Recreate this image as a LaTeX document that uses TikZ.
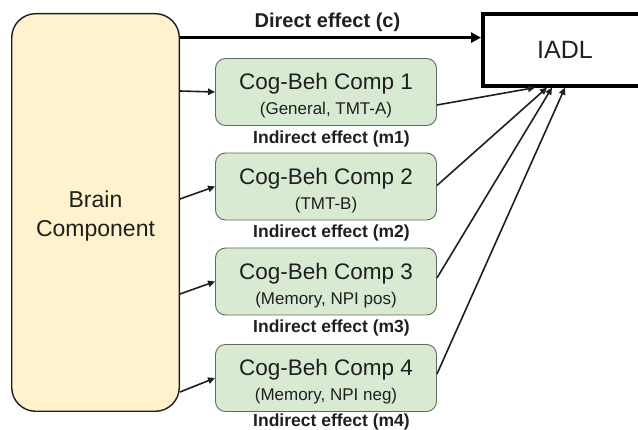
\documentclass[tikz,border=0pt]{standalone}
\usepackage{fontspec}
\setmainfont{Liberation Sans}
\usetikzlibrary{arrows.meta}
\definecolor{brainfill}{HTML}{FFF2CC}
\definecolor{cogfill}{HTML}{D9EAD3}
\definecolor{cogline}{HTML}{5F6B5C}
\definecolor{ink}{HTML}{1F1F1F}

\begin{document}
\begin{tikzpicture}[x=1pt,y=1pt,
  brainbox/.style={draw=ink, line width=1.4pt, fill=brainfill, rounded corners=24pt,
    minimum width=167.6pt, minimum height=397.6pt, align=center,
    font=\fontsize{23}{28.5}\selectfont, text=ink},
  cogbox/.style={draw=cogline, line width=0.9pt, fill=cogfill, rounded corners=10pt,
    minimum width=221pt, minimum height=67pt, align=center, inner sep=0pt,
    font=\fontsize{22.5}{25}\selectfont, text=ink},
  outbox/.style={draw=black, line width=4pt, minimum width=164pt, minimum height=72pt,
    font=\fontsize{25}{30}\selectfont, text=ink},
  efflabel/.style={font=\bfseries\fontsize{17.5}{20}\selectfont, text=ink, anchor=base},
  thinarrow/.style={draw=ink, line width=1.6pt, -{Triangle[length=7pt,width=6.5pt]}},
  thickarrow/.style={draw=black, line width=3.6pt, -{Triangle[length=10pt,width=10pt]}}
]
\useasboundingbox (0,0) rectangle (638,-430);
\clip (0,0) rectangle (638,-430);

% source and outcome
\node[brainbox] (brain) at (95.5,-212.5) {\rule{0pt}{24pt}Brain\\Component};
\node[outbox] (iadl) at (565,-49.6) {IADL};

% mediators
\node[cogbox] (c1) at (326,-92)    {\rule{0pt}{24pt}Cog-Beh Comp 1\\{\fontsize{17}{25}\selectfont (General, TMT-A)}};
\node[cogbox] (c2) at (326,-186.5) {\rule{0pt}{24pt}Cog-Beh Comp 2\\{\fontsize{17}{25}\selectfont (TMT-B)}};
\node[cogbox] (c3) at (326,-281.5) {\rule{0pt}{24pt}Cog-Beh Comp 3\\{\fontsize{17}{25}\selectfont (Memory, NPI pos)}};
\node[cogbox] (c4) at (326,-378)   {\rule{0pt}{24pt}Cog-Beh Comp 4\\{\fontsize{17}{25}\selectfont (Memory, NPI neg)}};

% path labels
\node[font=\bfseries\fontsize{20}{24}\selectfont, text=ink, anchor=base] (dlabel) at (327.5,-27.5) {Direct effect (c)};
\node[efflabel] (m1) at ([xshift=5.5pt,yshift=-17.5pt]c1.south) {Indirect effect (m1)};
\node[efflabel] (m2) at ([xshift=5.5pt,yshift=-17.5pt]c2.south) {Indirect effect (m2)};
\node[efflabel] (m3) at ([xshift=5.5pt,yshift=-17.5pt]c3.south) {Indirect effect (m3)};
\node[efflabel] (m4) at ([xshift=5.5pt,yshift=-14.5pt]c4.south) {Indirect effect (m4)};

% direct path
\draw[thickarrow] ([yshift=12pt]iadl.west -| brain.east) -- ([yshift=12pt]iadl.west);

% brain -> mediators
\draw[thinarrow] ([yshift=1pt]c1.west -| brain.east) -- (c1.west);
\draw[thinarrow] ([yshift=-12.5pt]c2.west -| brain.east) -- (c2.west);
\draw[thinarrow] ([yshift=-12.5pt]c3.west -| brain.east) -- (c3.west);
\draw[thinarrow] ([yshift=-14pt]c4.west -| brain.east) -- (c4.west);

% mediators -> outcome
\draw[thinarrow] ([yshift=-13pt]c1.east) -- ([xshift=54pt]iadl.south west);
\draw[thinarrow] ([yshift=1pt]c2.east)   -- ([xshift=66pt]iadl.south west);
\draw[thinarrow] ([yshift=3.5pt]c3.east) -- ([xshift=71pt]iadl.south west);
\draw[thinarrow] ([yshift=4pt]c4.east)   -- ([xshift=84pt]iadl.south west);
\end{tikzpicture}
\end{document}
